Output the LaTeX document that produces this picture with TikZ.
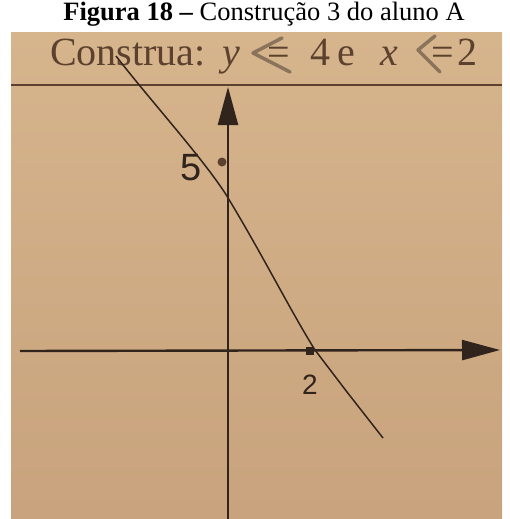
\documentclass[tikz,border=0pt]{standalone}
\usepackage{fontspec}
\setmainfont{Liberation Serif}
\newfontfamily\handfont{Liberation Sans}
\usetikzlibrary{arrows.meta}
\definecolor{paper}{RGB}{214,180,140}
\definecolor{paperdark}{RGB}{200,163,125}
\definecolor{ink}{RGB}{48,36,28}
\definecolor{print}{RGB}{92,66,46}
\definecolor{pencil}{RGB}{120,100,80}
\tikzset{
  hdr/.style={anchor=base west, text=print, inner sep=0pt, font=\fontsize{40}{44}\selectfont},
  axis/.style={ink, line width=2.4pt, -{Triangle[length=38pt,width=20pt]}},
  pencilmark/.style={pencil, line width=3.5pt, line cap=round, line join=round, opacity=.8}
}
\begin{document}
\begin{tikzpicture}[x=1pt,y=-1pt]
\useasboundingbox (0,0) rectangle (509,519);
\shade[top color=paper, bottom color=paperdark] (11,33) rectangle (502,519);
\node[anchor=base, inner sep=0pt, font=\fontsize{26.5}{29}\selectfont] (title) at (264,21) {\textbf{Figura 18 –} Construção 3 do aluno A};
% printed statement
\node[hdr] (cons) at (50,66) {Construa:};
\node[hdr] (yy) at (222,66) {\textit{y}};
\node[hdr] (eqa) at (267,66) {=};
\node[hdr] (four) at (310,66) {4};
\node[hdr] (ee) at (337,66) {e};
\node[hdr] (xx) at (380,66) {\textit{x}};
\node[hdr] (eqb) at (431,66) {=};
\node[hdr] (twob) at (457,66) {2};
\draw[print, line width=1.2pt] (11,85) -- (502,85);
% pencil marks
\draw[pencilmark] (282,38) -- (253,53) -- (290,72);
\draw[pencilmark] (435,36) -- (418,50) -- (440,72);
% axes
\draw[axis] (228,519) -- (228,87);
\draw[axis] (20,351) -- (500,350);
% line
\draw[ink, line width=1.5pt] (116,56) .. controls (150,100) and (200,155) .. (225,193) .. controls (260,250) and (290,310) .. (315,350) -- (347,392) -- (383,438);
\fill[print] (222,162) circle (4.5);
\fill[ink] (306,347) rectangle (314,355);
\node[text=ink, font=\handfont\fontsize{38}{40}\selectfont] (five) at (191,168) {5};
\node[text=ink, font=\handfont\fontsize{28}{30}\selectfont] (two) at (310,385) {2};
\end{tikzpicture}
\end{document}
